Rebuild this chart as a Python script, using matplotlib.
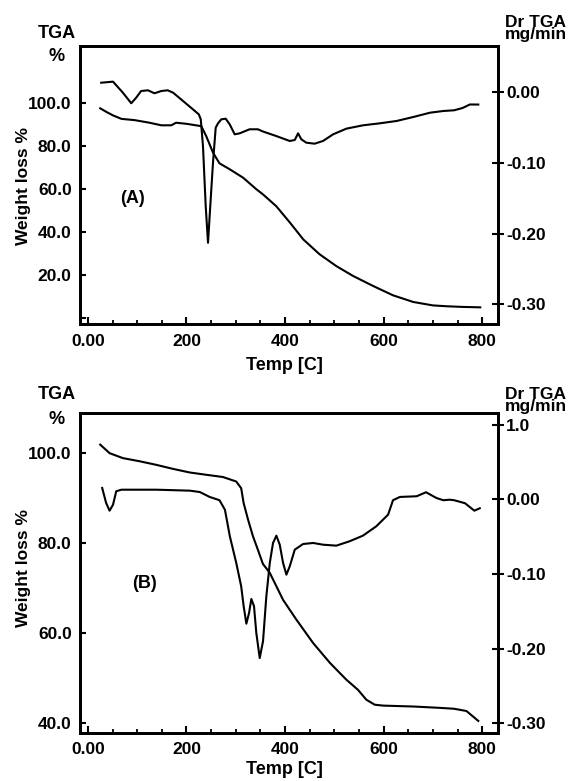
import matplotlib
matplotlib.use("Agg")
import matplotlib.pyplot as plt
from matplotlib.ticker import FixedLocator, FixedFormatter, MultipleLocator

plt.rcParams['font.family'] = ['Liberation Sans', 'DejaVu Sans']
plt.rcParams['font.weight'] = 'bold'

# ---------------- Data ----------------
# Panel A: TGA (weight %)
a_tga_T = [25, 37, 51, 68, 95, 125, 149, 169, 179, 200, 230, 240, 254, 267, 288, 315, 342, 355,
           382, 410, 437, 470, 504, 538, 579, 619, 660, 700, 728, 760, 796]
a_tga_W = [97.7, 96.1, 94.4, 92.8, 92.2, 91.0, 89.8, 89.8, 91.0, 90.5, 89.4, 84.8, 77.0, 72.1, 69.3,
           65.4, 60.0, 57.7, 52.2, 44.5, 36.7, 29.8, 24.3, 19.7, 15.0, 10.7, 7.6, 6.0, 5.6, 5.3, 5.1]
# Panel A: DTG (mg/min)
a_dtg_T = [27, 51, 71, 88, 98, 108, 122, 135, 149, 162, 173, 193, 213, 225, 229, 233.5, 239, 243.7,
           248.3, 253.8, 259.3, 264, 270.7, 279.6, 287.7, 297.8, 308, 328, 345, 355, 382, 409.5,
           419.7, 426.4, 433, 443, 460, 477, 497.5, 524.5, 558, 592, 626, 660, 694, 721, 743,
           760, 775, 792]
a_dtg_V = [0.0128, 0.0143, -0.0013, -0.0162, -0.0083, 0.0011, 0.0021, -0.0021, 0.0011, 0.0021,
           -0.0013, -0.013, -0.0247, -0.0318, -0.0388, -0.0765, -0.161, -0.213, -0.161, -0.100,
           -0.0506, -0.0445, -0.0388, -0.038, -0.0459, -0.060, -0.0586, -0.0529, -0.0529, -0.056,
           -0.0624, -0.0694, -0.068, -0.0586, -0.067, -0.0718, -0.0732, -0.0694, -0.060, -0.052,
           -0.0473, -0.0445, -0.0412, -0.0356, -0.0295, -0.0271, -0.0261, -0.0229, -0.0179, -0.018]

# Panel B: TGA (weight %)
b_tga_T = [25, 44, 71, 105, 139, 173, 207, 240, 274, 301, 311, 316, 325, 335, 345, 355, 369, 396,
           423, 457, 491, 524, 548, 565, 582, 599, 660, 714, 743, 768, 780, 792]
b_tga_W = [101.8, 99.9, 98.8, 98.1, 97.3, 96.4, 95.6, 95.1, 94.6, 93.6, 92.1, 88.8, 85.1, 81.4,
           78.4, 75.3, 73.3, 67.3, 62.9, 57.7, 53.3, 49.6, 47.3, 45.1, 44.0, 43.8, 43.6, 43.3,
           43.1, 42.6, 41.5, 40.4]
# Panel B: DTG (mg/min)
b_dtg_T = [29, 37, 44, 51, 57.5, 68, 139, 207, 227, 247, 267, 278, 288, 301, 311, 316, 321.5, 327,
           331.6, 337, 341.7, 348.6, 355.3, 362, 369, 375.6, 382.4, 389.2, 396, 402.7, 409.5,
           419.7, 436.5, 457, 477, 504, 531, 558, 585, 609, 619, 633, 667, 686, 707, 721, 734,
           743, 765, 784, 795]
b_dtg_V = [0.0154, -0.0047, -0.015, -0.007, 0.011, 0.0131, 0.0131, 0.0118, 0.010, 0.0034, -0.001,
           -0.0137, -0.0494, -0.0851, -0.1164, -0.143, -0.1665, -0.152, -0.1334, -0.143, -0.179,
           -0.2125, -0.190, -0.130, -0.0851, -0.0583, -0.0485, -0.0606, -0.0851, -0.1008, -0.0896,
           -0.0673, -0.0597, -0.0583, -0.0606, -0.0619, -0.056, -0.0485, -0.036, -0.0204, -0.001,
           0.0034, 0.0043, 0.0097, 0.002, -0.001, -0.0003, -0.001, -0.005, -0.015, -0.0118]

# Tick values / labels
x_ticks = [0, 200, 400, 600, 800]
x_labels = ["0.00", "200", "400", "600", "800"]
a_left_ticks = [0, 20, 40, 60, 80, 100]
a_left_labels = ["", "20.0", "40.0", "60.0", "80.0", "100.0"]
a_right_ticks = [0.0, -0.1, -0.2, -0.3]
a_right_labels = ["0.00", "-0.10", "-0.20", "-0.30"]
b_left_ticks = [40, 60, 80, 100]
b_left_labels = ["40.0", "60.0", "80.0", "100.0"]
b_right_ticks = [0.1, 0.0, -0.1, -0.2, -0.3]
b_right_labels = ["1.0", "0.00", "-0.10", "-0.20", "-0.30"]

# ---------------- Figure ----------------
W, H = 574, 781
fig = plt.figure(figsize=(W / 100, H / 100), dpi=100)

TICK_FS = 12.5
LW_SPINE = 2.0
LW_CURVE = 1.5


def fpos(x0, y0, x1, y1):
    return [x0 / W, 1 - y1 / H, (x1 - x0) / W, (y1 - y0) / H]


def style_axes(ax, ax2, xl, yl, yr, lt, ll, rt, rl):
    ax.set_xlim(*xl)
    ax.set_ylim(*yl)
    ax2.set_ylim(*yr)
    ax.xaxis.set_major_locator(FixedLocator(x_ticks))
    ax.xaxis.set_major_formatter(FixedFormatter(x_labels))
    ax.xaxis.set_minor_locator(MultipleLocator(50))
    ax.yaxis.set_major_locator(FixedLocator(lt))
    ax.yaxis.set_major_formatter(FixedFormatter(ll))
    ax2.yaxis.set_major_locator(FixedLocator(rt))
    ax2.yaxis.set_major_formatter(FixedFormatter(rl))
    ax.tick_params(axis='x', which='major', direction='in', length=5, width=1.5,
                   labelsize=TICK_FS, pad=7)
    ax.tick_params(axis='x', which='minor', direction='in', length=3, width=1.3)
    ax.tick_params(axis='y', which='major', direction='in', length=4, width=1.5,
                   labelsize=TICK_FS, pad=6)
    ax2.tick_params(axis='y', which='major', direction='inout', length=8, width=1.5,
                    labelsize=TICK_FS, pad=2)
    for a in (ax, ax2):
        for s in a.spines.values():
            s.set_linewidth(LW_SPINE)
        for lab in a.get_xticklabels() + a.get_yticklabels():
            lab.set_fontweight('bold')


# Panel A
axA = fig.add_axes(fpos(80, 46, 498, 324))
axA2 = axA.twinx()
axA.plot(a_tga_T, a_tga_W, color='black', lw=LW_CURVE)
axA2.plot(a_dtg_T, a_dtg_V, color='black', lw=LW_CURVE)
style_axes(axA, axA2, (-16, 832), (-2.65, 126.7), (-0.3276, 0.0646),
           a_left_ticks, a_left_labels, a_right_ticks, a_right_labels)

# Panel B
axB = fig.add_axes(fpos(80, 413.3, 498, 732.7))
axB2 = axB.twinx()
axB.plot(b_tga_T, b_tga_W, color='black', lw=LW_CURVE)
axB2.plot(b_dtg_T, b_dtg_V, color='black', lw=LW_CURVE)
style_axes(axB, axB2, (-16, 832), (37.78, 108.76), (-0.3126, 0.1155),
           b_left_ticks, b_left_labels, b_right_ticks, b_right_labels)


def ftext(x, y, s, size=13, rot=0, ha='center', ls=1.2):
    fig.text(x / W, 1 - y / H, s, fontsize=size, fontweight='bold', rotation=rot,
             ha=ha, va='center', linespacing=ls)


# Panel A texts
ftext(56.7, 33.3, "TGA")
ftext(56.7, 56.7, "%")
ftext(505, 28.5, "Dr TGA\nmg/min", size=12.5, ha='left', ls=0.78)
ftext(23.8, 186, "Weight loss %", size=12.5, rot=90)
ftext(284.4, 365, "Temp [C]")
ftext(132.5, 198.3, "(A)")

# Panel B texts
ftext(56.7, 395, "TGA")
ftext(56.7, 419.3, "%")
ftext(505, 400.5, "Dr TGA\nmg/min", size=12.5, ha='left', ls=0.78)
ftext(23.8, 568.3, "Weight loss %", size=12.5, rot=90)
ftext(284.4, 770, "Temp [C]")
ftext(144.6, 583.3, "(B)")

fig.savefig("out.png", dpi=100)
